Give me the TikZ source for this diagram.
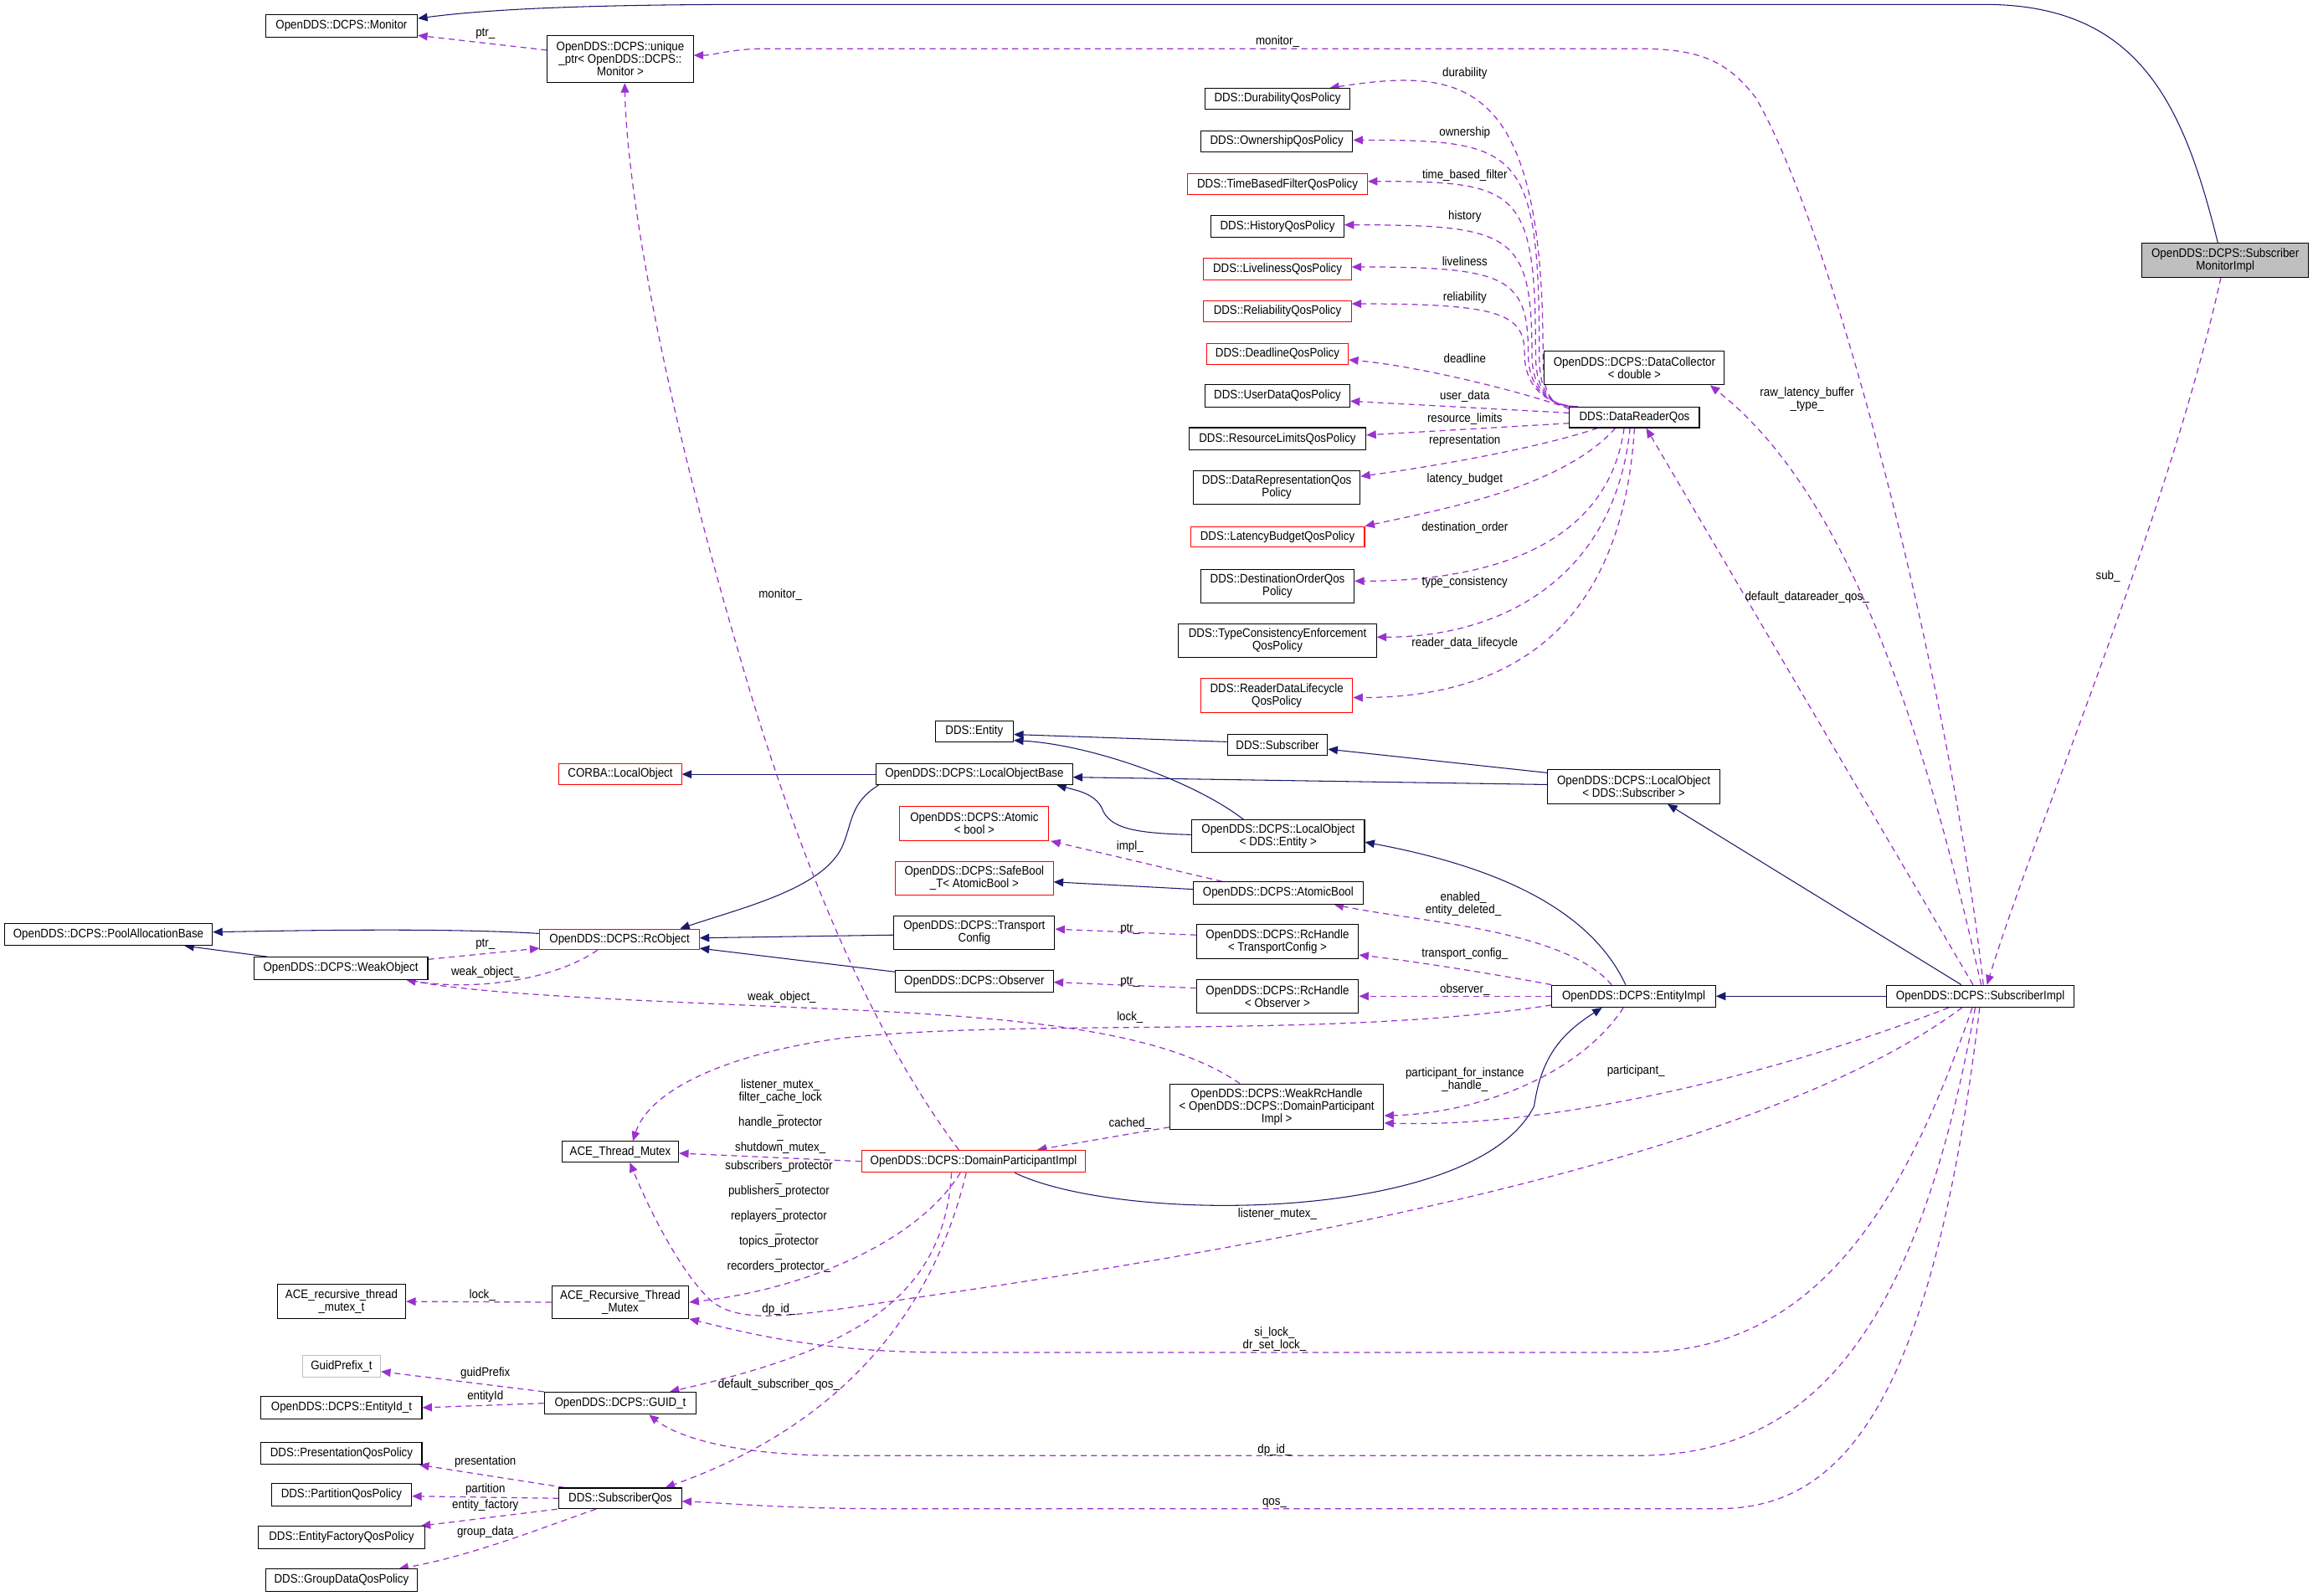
\documentclass[tikz,border=0pt]{standalone}
\usepackage{fontspec}
\setmainfont{Liberation Sans}[FakeStretch=0.9]
\usetikzlibrary{arrows.meta,calc}
\definecolor{navy}{RGB}{25,25,112}
\definecolor{orch}{RGB}{154,50,205}
\definecolor{boxgray}{RGB}{191,191,191}
\pgfdeclarelayer{bg}
\pgfsetlayers{bg,main}
\newcommand\fs{\fontsize{8.4}{8.5}\selectfont}
\newcommand\bx[7]{\node[#1,minimum width={#5-#3},minimum height={#6-#4}] (#2) at ({(#3+#5)/2},{(#4+#6)/2}) {#7};}
\tikzset{
  cls/.style={draw=black,line width=0.6pt,fill=white,inner sep=0pt,align=center,font=\fs},
  redcls/.style={cls,draw=red},
  lightcls/.style={cls,draw=boxgray},
  curcls/.style={cls,fill=boxgray},
  lbl/.style={inner sep=0pt,align=center,font=\fs},
  inh/.style={draw=navy,line width=0.6pt,-{Triangle[length=6.5pt,width=5.5pt]}},
  dep/.style={draw=orch,line width=0.7pt,dash pattern=on 4pt off 3pt,-{Triangle[length=6.5pt,width=5.5pt]}}
}
\begin{document}
\begin{tikzpicture}[x=1pt,y=-1pt]
\begin{pgfonlayer}{bg}
\path[use as bounding box,fill=white] (0,0) rectangle (1568,1082);
\end{pgfonlayer}
% ---------------- nodes
\bx{cls}{mon}{180}{10}{283}{25}{OpenDDS::DCPS::Monitor}
\bx{cls}{uptr}{371}{24}{470}{56}{OpenDDS::DCPS::unique\\\_ptr< OpenDDS::DCPS::\\Monitor >}
\bx{curcls}{smi}{1452}{165}{1565}{188}{OpenDDS::DCPS::Subscriber\\MonitorImpl}
\bx{cls}{dur}{817}{60}{915}{74}{DDS::DurabilityQosPolicy}
\bx{cls}{own}{814}{89}{917}{103}{DDS::OwnershipQosPolicy}
\bx{redcls}{tbf}{805}{118}{927}{132}{DDS::TimeBasedFilterQosPolicy}
\bx{cls}{his}{821}{146}{911}{161}{DDS::HistoryQosPolicy}
\bx{redcls}{liv}{816}{175}{916}{190}{DDS::LivelinessQosPolicy}
\bx{redcls}{rel}{816}{204}{916}{218}{DDS::ReliabilityQosPolicy}
\bx{redcls}{dl}{818}{233}{914}{247}{DDS::DeadlineQosPolicy}
\bx{cls}{ud}{817}{261}{915}{276}{DDS::UserDataQosPolicy}
\bx{cls}{rl}{806}{290}{926}{305}{DDS::ResourceLimitsQosPolicy}
\bx{cls}{drep}{809}{319}{922}{342}{DDS::DataRepresentationQos\\Policy}
\bx{redcls}{lb}{807}{357}{925}{371}{DDS::LatencyBudgetQosPolicy}
\bx{cls}{dord}{814}{386}{918}{409}{DDS::DestinationOrderQos\\Policy}
\bx{cls}{tce}{799}{423}{933}{446}{DDS::TypeConsistencyEnforcement\\QosPolicy}
\bx{redcls}{rdl}{814}{460}{917}{483}{DDS::ReaderDataLifecycle\\QosPolicy}
\bx{cls}{dc}{1047}{238}{1169}{261}{OpenDDS::DCPS::DataCollector\\< double >}
\bx{cls}{drq}{1064}{276}{1152}{290}{DDS::DataReaderQos}
\bx{cls}{ent}{634}{489}{687}{503}{DDS::Entity}
\bx{cls}{sub}{832}{498}{900}{512}{DDS::Subscriber}
\bx{cls}{lob}{594}{518}{727}{532}{OpenDDS::DCPS::LocalObjectBase}
\bx{cls}{los}{1049}{522}{1166}{545}{OpenDDS::DCPS::LocalObject\\< DDS::Subscriber >}
\bx{redcls}{corba}{379}{518}{462}{532}{CORBA::LocalObject}
\bx{redcls}{atm}{610}{547}{711}{570}{OpenDDS::DCPS::Atomic\\< bool >}
\bx{cls}{loe}{808}{556}{925}{578}{OpenDDS::DCPS::LocalObject\\< DDS::Entity >}
\bx{redcls}{sb}{607}{584}{714}{607}{OpenDDS::DCPS::SafeBool\\\_T< AtomicBool >}
\bx{cls}{ab}{809}{598}{924}{613}{OpenDDS::DCPS::AtomicBool}
\bx{cls}{tc}{606}{621}{715}{644}{OpenDDS::DCPS::Transport\\Config}
\bx{cls}{rht}{811}{627}{921}{650}{OpenDDS::DCPS::RcHandle\\< TransportConfig >}
\bx{cls}{obs}{607}{658}{714}{673}{OpenDDS::DCPS::Observer}
\bx{cls}{rho}{811}{664}{921}{687}{OpenDDS::DCPS::RcHandle\\< Observer >}
\bx{cls}{ei}{1052}{668}{1163}{683}{OpenDDS::DCPS::EntityImpl}
\bx{cls}{si}{1279}{668}{1406}{683}{OpenDDS::DCPS::SubscriberImpl}
\bx{redcls}{rco}{366}{630}{474}{644}{OpenDDS::DCPS::RcObject}
\bx{cls}{pab}{3}{626}{144}{641}{OpenDDS::DCPS::PoolAllocationBase}
\bx{cls}{wo}{172}{649}{290}{664}{OpenDDS::DCPS::WeakObject}
\bx{cls}{wrh}{793}{735}{938}{766}{OpenDDS::DCPS::WeakRcHandle\\< OpenDDS::DCPS::DomainParticipant\\Impl >}
\bx{redcls}{dpi}{584}{780}{736}{795}{OpenDDS::DCPS::DomainParticipantImpl}
\bx{cls}{atmx}{381}{774}{460}{788}{ACE\_Thread\_Mutex}
\bx{cls}{artm}{374}{872}{467}{894}{ACE\_Recursive\_Thread\\\_Mutex}
\bx{cls}{artmt}{188}{871}{275}{894}{ACE\_recursive\_thread\\\_mutex\_t}
\bx{lightcls}{gp}{205}{919}{258}{934}{GuidPrefix\_t}
\bx{cls}{eid}{177}{947}{286}{962}{OpenDDS::DCPS::EntityId\_t}
\bx{cls}{guid}{369}{944}{472}{959}{OpenDDS::DCPS::GUID\_t}
\bx{cls}{pres}{177}{978}{286}{993}{DDS::PresentationQosPolicy}
\bx{cls}{part}{184}{1006}{279}{1021}{DDS::PartitionQosPolicy}
\bx{cls}{sq}{379}{1009}{462}{1023}{DDS::SubscriberQos}
\bx{cls}{ef}{175}{1035}{288}{1050}{DDS::EntityFactoryQosPolicy}
\bx{cls}{gd}{180}{1064}{283}{1079}{DDS::GroupDataQosPolicy}
\begin{pgfonlayer}{bg}
% ---------------- inheritance
\draw[inh] ($(smi.north)+(-5,0)$) .. controls (1480,70) and (1450,3) .. (1345,3) -- (520,3) .. controls (420,3) and (340,5) .. ($(mon.east)+(0,-5)$);
\draw[inh] ($(si.north)+(-13,0)$) -- ($(los.south)+(23,0)$);
\draw[inh] (si.west) -- (ei.east);
\draw[inh] ($(los.west)+(0,-9.5)$) -- ($(sub.east)+(0,3)$);
\draw[inh] ($(los.west)+(0,-1.5)$) -- ($(lob.east)+(0,2)$);
\draw[inh] ($(sub.west)+(0,-2)$) -- ($(ent.east)+(0,2)$);
\draw[inh] ($(loe.north)+(-23.5,0)$) .. controls (810,530) and (740,505) .. ($(ent.east)+(0,6)$);
\draw[inh] ($(loe.west)+(0,-1)$) .. controls (770,565) and (752,562) .. (747,548) .. controls (742,538) and (730,536) .. ($(lob.south east)+(-11,0)$);
\draw[inh] ($(ei.north)+(-5.5,0)$) .. controls (1075,610) and (1000,585) .. ($(loe.east)+(0,4)$);
\draw[inh] ($(ab.west)+(0,-2.5)$) -- ($(sb.east)+(0,2.5)$);
\draw[inh] (lob.west) -- (corba.east);
\draw[inh] ($(lob.south west)+(2,0)$) .. controls (575,545) and (578,560) .. (570,576) .. controls (555,603) and (505,615) .. ($(rco.north)+(41,0)$);
\draw[inh] ($(tc.west)+(0,1.5)$) -- ($(rco.east)+(0,-1)$);
\draw[inh] ($(obs.west)+(0,-6.5)$) -- ($(rco.east)+(0,6)$);
\draw[inh] ($(rco.west)+(0,-4)$) .. controls (300,629) and (200,631) .. ($(pab.east)+(0,-1.5)$);
\draw[inh] ($(wo.north)+(-50,0)$) -- ($(pab.south)+(51.5,0)$);
\draw[inh] ($(dpi.south)+(28,0)$) .. controls (760,830) and (1000,830) .. (1040,750) .. controls (1045,715) and (1060,700) .. ($(ei.south)+(-21.5,0)$);
% ---------------- usage
\draw[dep] ($(si.north)+(2,0)$) .. controls (1320,450) and (1240,150) .. (1190,66) .. controls (1170,40) and (1150,33) .. (1110,33) -- (520,33) .. controls (495,33) and (485,37.5) .. ($(uptr.east)+(0,-2.5)$);
\draw[dep] ($(uptr.west)+(0,-6)$) -- ($(mon.east)+(0,6.5)$);
\draw[dep] ($(dpi.north)+(-10,0)$) .. controls (590,700) and (540,580) .. (500,440) .. controls (450,270) and (425,130) .. ($(uptr.south)+(3,0)$);
\draw[dep] ($(smi.south)+(-3,0)$) .. controls (1470,350) and (1380,560) .. ($(si.north)+(4.5,0)$);
% DataReaderQos fan
\draw[dep] ($(drq.north west)+(1,0)$) .. controls (1048,275) and (1046,262) .. (1046,240) .. controls (1046,55) and (995,45) .. ($(dur.north east)+(-14,0)$);
\draw[dep] ($(drq.north west)+(2,0)$) .. controls (1048,275) and (1043.5,262) .. (1043.5,240) .. controls (1043.5,100) and (1030,95) .. ($(own.east)+(0,-1)$);
\draw[dep] ($(drq.north west)+(3,0)$) .. controls (1048,275) and (1041,262) .. (1041,240) .. controls (1041,128) and (1030,123) .. ($(tbf.east)+(0,-2)$);
\draw[dep] ($(drq.north west)+(4,0)$) .. controls (1048,275) and (1038.5,262) .. (1038.5,240) .. controls (1038.5,158) and (1025,152.5) .. ($(his.east)+(0,-1)$);
\draw[dep] ($(drq.north west)+(5,0)$) .. controls (1048,275) and (1036,262) .. (1036,240) .. controls (1036,188) and (1022,181) .. ($(liv.east)+(0,-1.5)$);
\draw[dep] ($(drq.north west)+(6,0)$) .. controls (1048,275) and (1033.5,262) .. (1033.5,240) .. controls (1033.5,213) and (1018,206) .. ($(rel.east)+(0,-5)$);
\draw[dep] ($(drq.west)+(0,-6)$) .. controls (1030,265) and (960,248) .. ($(dl.east)+(0,4)$);
\draw[dep] ($(drq.west)+(0,-3)$) -- ($(ud.east)+(0,3.5)$);
\draw[dep] ($(drq.west)+(0,4)$) -- ($(rl.east)+(0,-2.5)$);
\draw[dep] ($(drq.south)+(-25,0)$) .. controls (1040,305) and (960,318) .. ($(drep.east)+(0,-7.5)$);
\draw[dep] ($(drq.south)+(-13,0)$) .. controls (1060,330) and (980,345) .. (lb.north east);
\draw[dep] ($(drq.south)+(-7,0)$) .. controls (1090,370) and (1010,394) .. ($(dord.east)+(0,-3.5)$);
\draw[dep] ($(drq.south)+(-3,0)$) .. controls (1095,390) and (1020,432) .. ($(tce.east)+(0,-2.5)$);
\draw[dep] (drq.south) .. controls (1100,420) and (1030,473) .. ($(rdl.east)+(0,1.5)$);
% SubscriberImpl, EntityImpl and others
\draw[dep] ($(si.north)+(-5,0)$) -- ($(drq.south)+(8,0)$);
\draw[dep] ($(si.north)+(0.5,0)$) .. controls (1310,520) and (1260,340) .. ($(dc.south east)+(-10,0)$);
\draw[dep] ($(ab.north)+(-38,0)$) -- ($(atm.south east)+(1,0)$);
\draw[dep] ($(rht.west)+(0,-4.5)$) -- ($(tc.east)+(0,-2.5)$);
\draw[dep] ($(rho.west)+(0,-5.5)$) -- ($(obs.east)+(0,0.5)$);
\draw[dep] ($(ei.north)+(-15,0)$) .. controls (1060,630) and (960,625) .. ($(ab.south east)+(-20,0)$);
\draw[dep] (ei.north west) .. controls (1010,660) and (960,652) .. ($(rht.east)+(0,9)$);
\draw[dep] (ei.west) -- (rho.east);
\draw[dep] ($(wrh.north)+(-25,0)$) .. controls (790,700) and (700,690) .. (560,684) .. controls (450,679) and (330,675) .. ($(wo.south east)+(-15,0)$);
\draw[dep] ($(ei.west)+(0,6)$) .. controls (900,705) and (700,690) .. (570,704) .. controls (490,715) and (440,740) .. ($(atmx.north)+(8.5,0)$);
\draw[dep] ($(ei.south)+(-7,0)$) .. controls (1070,730) and (1000,755) .. ($(wrh.east)+(0,6)$);
\draw[dep] ($(si.south)+(-21.5,0)$) .. controls (1200,730) and (1050,765) .. ($(wrh.east)+(0,11)$);
\draw[dep] (dpi.west) -- ($(atmx.east)+(0,1)$);
\draw[dep] ($(dpi.south)+(-9,0)$) .. controls (620,845) and (540,875) .. (artm.east);
\draw[dep] ($(si.south)+(-12.5,0)$) .. controls (1200,780) and (900,840) .. (620,880) .. controls (540,892) and (500,900) .. (480,880) .. controls (460,860) and (440,820) .. ($(atmx.south)+(6.5,0)$);
\draw[dep] ($(si.south)+(-5.5,0)$) .. controls (1290,820) and (1230,917) .. (1110,917) -- (640,917) .. controls (560,917) and (510,905) .. (artm.south east);
\draw[dep] ($(si.south)+(-3.5,0)$) .. controls (1300,900) and (1230,987) .. (1110,987) -- (570,987) .. controls (500,987) and (460,975) .. ($(guid.south)+(19.5,0)$);
\draw[dep] ($(si.south)+(-0.5,0)$) .. controls (1310,950) and (1250,1023) .. (1165,1023) -- (600,1023) .. controls (530,1023) and (490,1019) .. ($(sq.east)+(0,2)$);
\draw[dep] ($(wrh.south west)+(0,-2)$) -- ($(dpi.north)+(43,0)$);
\draw[dep] ($(dpi.south)+(-15,0)$) .. controls (640,880) and (580,915) .. ($(guid.north)+(33.5,0)$);
\draw[dep] ($(dpi.south)+(-5,0)$) .. controls (630,900) and (560,970) .. ($(sq.north)+(30.5,0)$);
\draw[dep] (artm.west) -- (artmt.east);
\draw[dep] (guid.north west) -- ($(gp.east)+(0,3.5)$);
\draw[dep] (guid.west) -- (eid.east);
\draw[dep] ($(sq.north west)+(4,0)$) -- ($(pres.south east)+(-2,0)$);
\draw[dep] (sq.west) -- ($(part.east)+(0,1)$);
\draw[dep] ($(sq.south west)+(-1,0)$) -- ($(ef.north east)+(-3,0)$);
\draw[dep] ($(sq.south)+(-16.5,0)$) .. controls (370,1035) and (320,1055) .. ($(gd.north east)+(-13,0)$);
\draw[dep] ($(wo.east)+(0,-6)$) -- ($(rco.west)+(0,6)$);
\draw[dep] ($(rco.south)+(-15,0)$) .. controls (375,665) and (320,672) .. ($(wo.south east)+(-15,0)$);
\end{pgfonlayer}
% ---------------- labels
\node[lbl] (L1) at (329,23) {ptr\_};
\node[lbl] (L2) at (866,28) {monitor\_};
\node[lbl] (L3) at (529,403) {monitor\_};
\node[lbl] (L4) at (993,50) {durability};
\node[lbl] (L5) at (993,90) {ownership};
\node[lbl] (L6) at (993,119) {time\_based\_filter};
\node[lbl] (L7) at (993,147) {history};
\node[lbl] (L8) at (993,177) {liveliness};
\node[lbl] (L9) at (993,202) {reliability};
\node[lbl] (L10) at (993,243) {deadline};
\node[lbl] (L11) at (993,269) {user\_data};
\node[lbl] (L12) at (993,284) {resource\_limits};
\node[lbl] (L13) at (993,299) {representation};
\node[lbl] (L14) at (993,325) {latency\_budget};
\node[lbl] (L15) at (993,358) {destination\_order};
\node[lbl] (L16) at (993,395) {type\_consistency};
\node[lbl] (L17) at (993,436) {reader\_data\_lifecycle};
\node[lbl] (L18) at (1225,271) {raw\_latency\_buffer\\\_type\_};
\node[lbl] (L19) at (1225,405) {default\_datareader\_qos\_};
\node[lbl] (L20) at (1429,391) {sub\_};
\node[lbl] (L21) at (766,574) {impl\_};
\node[lbl] (L22) at (992,613) {enabled\_\\entity\_deleted\_};
\node[lbl] (L23) at (766,630) {ptr\_};
\node[lbl] (L24) at (993,647) {transport\_config\_};
\node[lbl] (L25) at (766,666) {ptr\_};
\node[lbl] (L26) at (993,671) {observer\_};
\node[lbl] (L27) at (766,690) {lock\_};
\node[lbl] (L28) at (530,676) {weak\_object\_};
\node[lbl] (L29) at (329,640) {ptr\_};
\node[lbl] (L30) at (329,659) {weak\_object\_};
\node[lbl] (L31) at (993,732) {participant\_for\_instance\\\_handle\_};
\node[lbl] (L32) at (1109,726) {participant\_};
\node[lbl] (L33) at (766,762) {cached\_};
\node[lbl] (L34) at (529,757) {listener\_mutex\_\\filter\_cache\_lock\\\_\\handle\_protector\\\_\\shutdown\_mutex\_};
\node[lbl] (L35) at (528,825) {subscribers\_protector\\\_\\publishers\_protector\\\_\\replayers\_protector\\\_\\topics\_protector\\\_\\recorders\_protector\_};
\node[lbl] (L36) at (866,823) {listener\_mutex\_};
\node[lbl] (L37) at (528,888) {dp\_id\_};
\node[lbl] (L38) at (327,878) {lock\_};
\node[lbl] (L39) at (864,908) {si\_lock\_\\dr\_set\_lock\_};
\node[lbl] (L40) at (528,939) {default\_subscriber\_qos\_};
\node[lbl] (L41) at (329,931) {guidPrefix};
\node[lbl] (L42) at (329,947) {entityId};
\node[lbl] (L43) at (864,983) {dp\_id\_};
\node[lbl] (L44) at (329,991) {presentation};
\node[lbl] (L45) at (329,1010) {partition};
\node[lbl] (L46) at (864,1019) {qos\_};
\node[lbl] (L47) at (329,1021) {entity\_factory};
\node[lbl] (L48) at (329,1039) {group\_data};
\end{tikzpicture}
\end{document}
